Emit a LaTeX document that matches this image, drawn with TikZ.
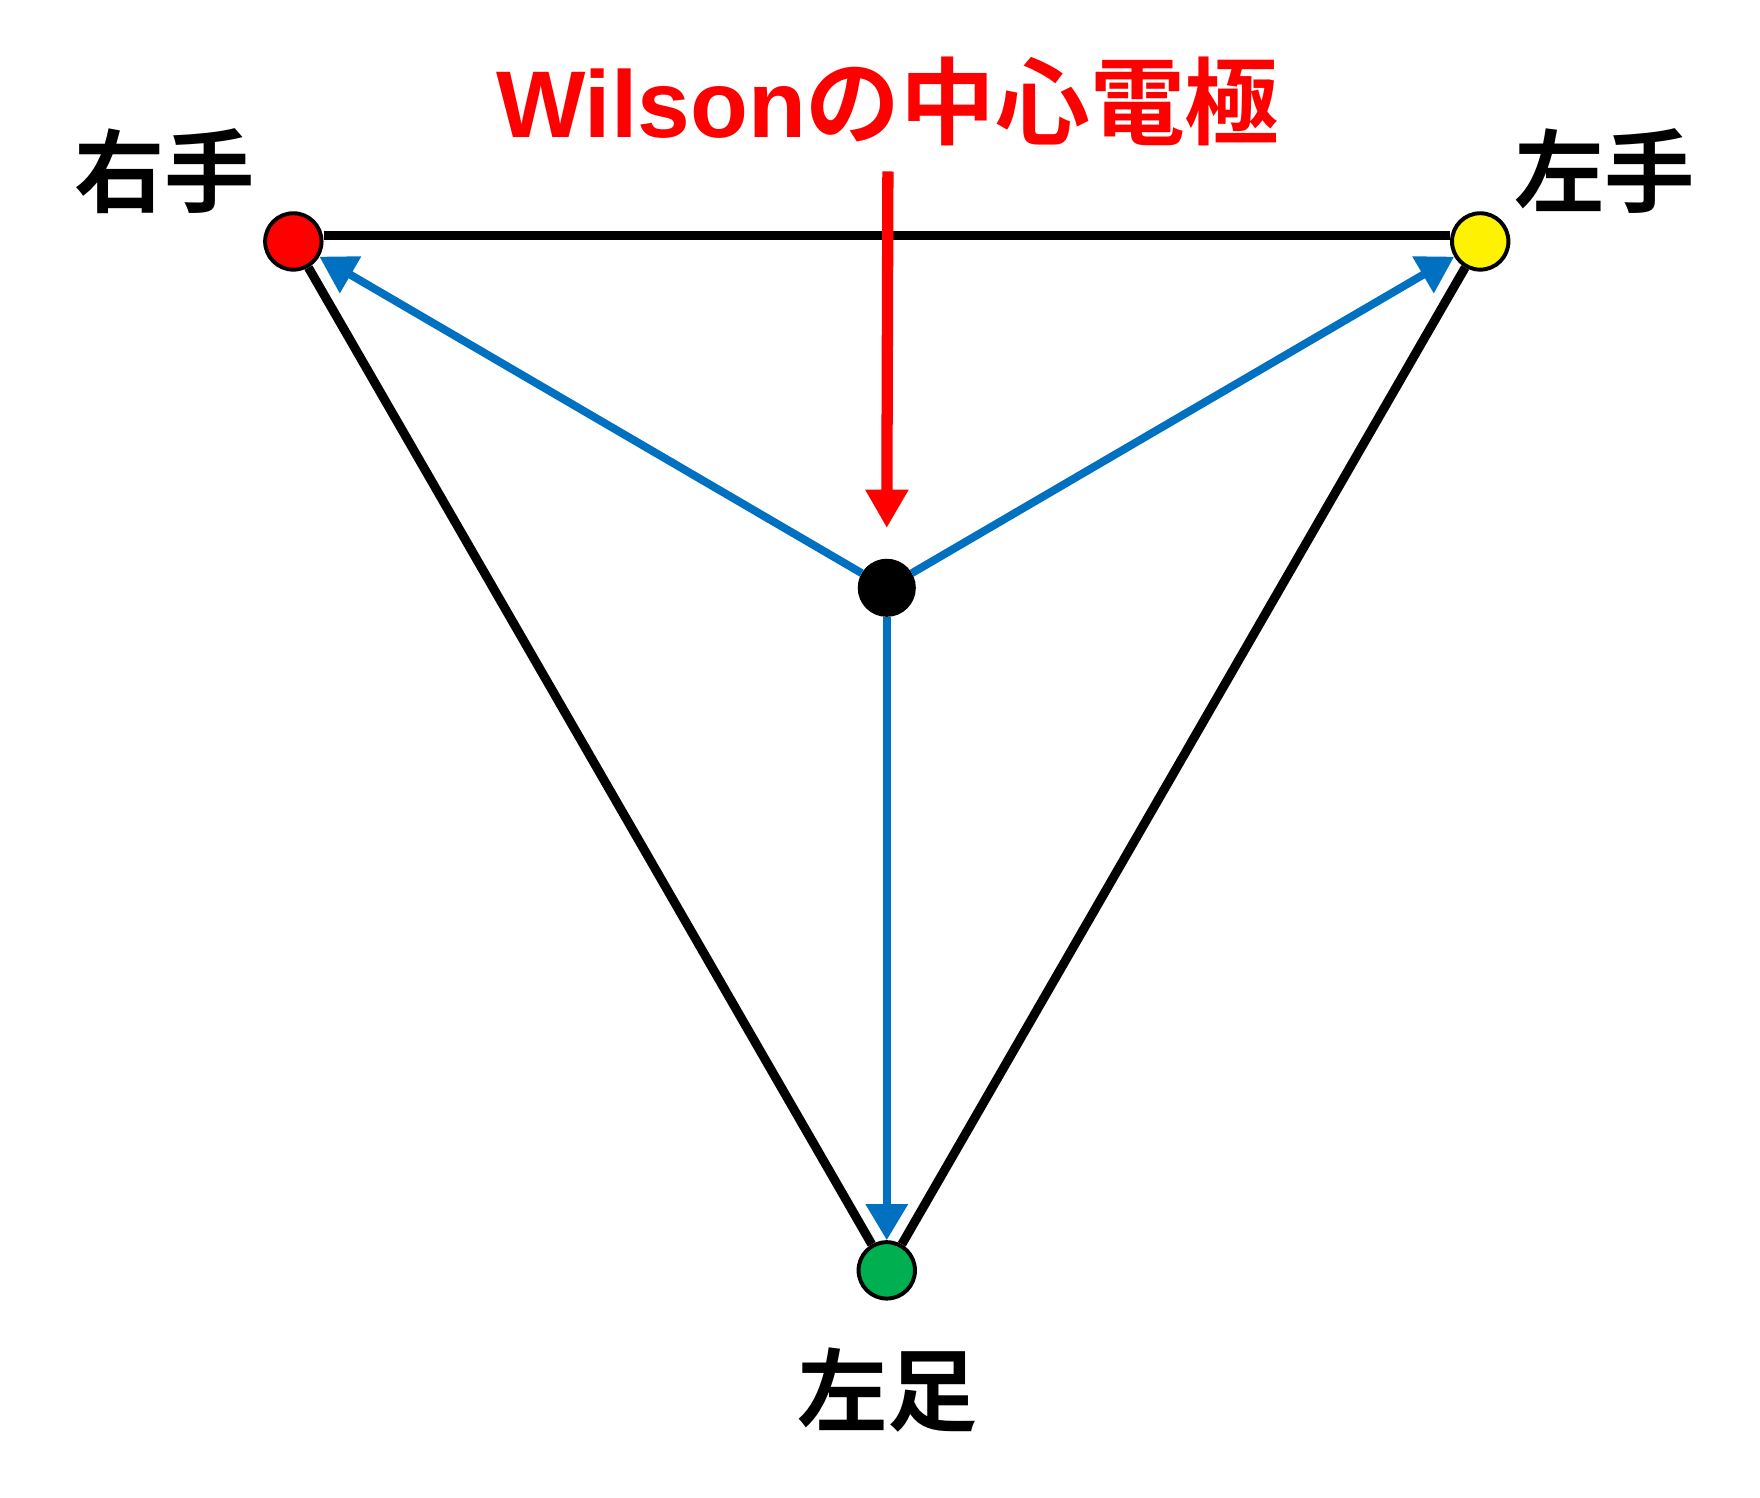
\documentclass[tikz,border=0pt]{standalone}
\usepackage{fontspec}
\newfontfamily\cjk{Noto Sans CJK JP Bold}
\newfontfamily\lat{Liberation Sans Bold}
\usetikzlibrary{arrows.meta}
\definecolor{lblue}{RGB}{0,112,192}
\definecolor{lgreen}{RGB}{0,176,80}
\begin{document}
\begin{tikzpicture}[x=1pt,y=-1pt,
  dot/.style={circle,draw=black,line width=3.5pt,minimum size=50pt,inner sep=0pt},
  side/.style={line width=8pt,black},
  barrow/.style={line width=7pt,lblue,-{Triangle[width=36pt,length=32pt]}},
  lab/.style={font=\cjk\fontsize{80}{80}\selectfont}]
\useasboundingbox (0,0) rectangle (1560,1327);
\node[dot,fill=red] (ra) at (260,214) {};
\node[dot,fill=yellow] (la) at (1312,214) {};
\node[dot,fill=lgreen] (ll) at (786,1126) {};
\node[dot,fill=black,minimum size=48pt] (c) at (786,521) {};
\draw[side] (ra.east |- 0,209) -- (la.west |- 0,209);
\draw[side] (ra) -- (ll);
\draw[side] (la) -- (ll);
\draw[barrow] (c) -- (ra);
\draw[barrow] (c) -- (la);
\draw[barrow] (c) -- (ll);
\node[lab] (t1) at (146,152) {右手};
\node[lab] (t2) at (1422,152) {左手};
\node[lab] (t3) at (787,1232) {左足};
\node[text=red,inner sep=0pt] (title) at (787,90) {\lat\fontsize{84}{84}\selectfont Wilson\cjk の中心電極};
\coordinate (ts) at (787,152);
\draw[red,line width=10pt,-{Triangle[width=36pt,length=34pt]}] (ts) -- (c.north |- 0,468);
\end{tikzpicture}
\end{document}
